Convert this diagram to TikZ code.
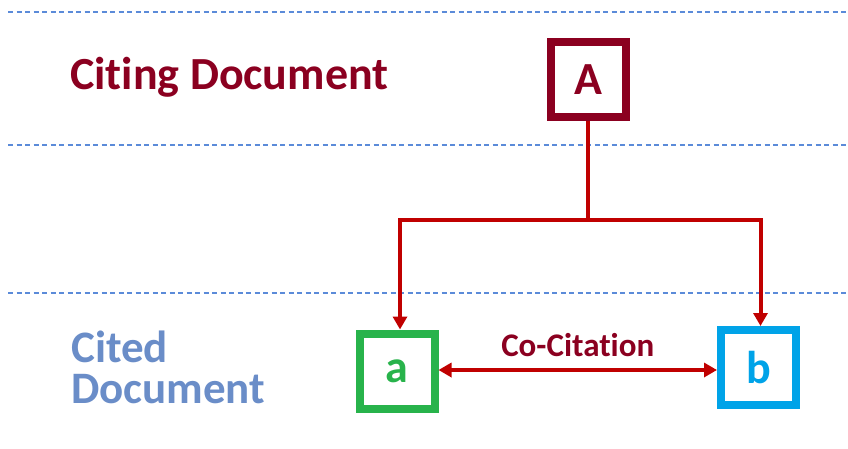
\documentclass[tikz,border=0pt]{standalone}
\usepackage{fontspec}
\setmainfont{Carlito}[Ligatures=NoCommon]
\usetikzlibrary{arrows.meta}
\definecolor{maroon}{HTML}{8B0020}
\definecolor{linered}{HTML}{C00000}
\definecolor{boxgreen}{HTML}{28B34B}
\definecolor{boxblue}{HTML}{00A3E8}
\definecolor{citedblue}{HTML}{6A8DC8}
\definecolor{dashblue}{HTML}{5B8BD9}
\tikzset{
  docbox/.style={draw, line width=8pt, minimum size=75pt, inner sep=0pt, font=\fontsize{46}{50}\selectfont\bfseries},
  sep/.style={dashblue, line width=1.2pt, dash pattern=on 5pt off 3.5pt},
  conn/.style={linered, line width=4pt},
  arr/.style={conn, -{Triangle[length=13pt,width=14pt]}},
  darr/.style={conn, {Triangle[length=13pt,width=14pt]}-{Triangle[length=13pt,width=14pt]}},
}
\begin{document}
\begin{tikzpicture}[x=1pt,y=-1pt]
\useasboundingbox (0,0) rectangle (848,449);
% separators
\coordinate (s1a) at (8,12);   \coordinate (s1b) at (848,12);
\coordinate (s2a) at (8,145);  \coordinate (s2b) at (848,145);
\coordinate (s3a) at (8,293);  \coordinate (s3b) at (848,293);
\draw[sep] (s1a) -- (s1b);
\draw[sep] (s2a) -- (s2b);
\draw[sep] (s3a) -- (s3b);
% labels
\node[anchor=base west, inner sep=0pt, text=maroon, font=\fontsize{46}{50}\selectfont\bfseries] (citing) at (70,90) {Citing Document};
\node[anchor=north west, inner sep=0pt, align=left, text=citedblue, font=\fontsize{45}{41}\selectfont\bfseries] (cited) at (71,331) {Cited\\Document};
% boxes
\node[docbox, draw=maroon, text=maroon] (A) at (588,80) {A};
\node[docbox, draw=boxgreen, text=boxgreen] (a) at (397,371) {a};
\node[docbox, draw=boxblue, text=boxblue] (b) at (758.5,367.5) {b};
% connectors
\coordinate (j) at (A.south |- 0,220);
\draw[conn] (A.south) -- (j);
\draw[arr] (j) -| ([xshift=3pt]a.north);
\draw[arr] (j) -| ([xshift=2pt]b.north);
\draw[darr] (a.east |- 0,370) -- (b.west |- 0,370)
  node[midway, anchor=base, yshift=14pt, text=maroon, font=\fontsize{33}{36}\selectfont\bfseries] (cc) {Co-Citation};
\end{tikzpicture}
\end{document}
